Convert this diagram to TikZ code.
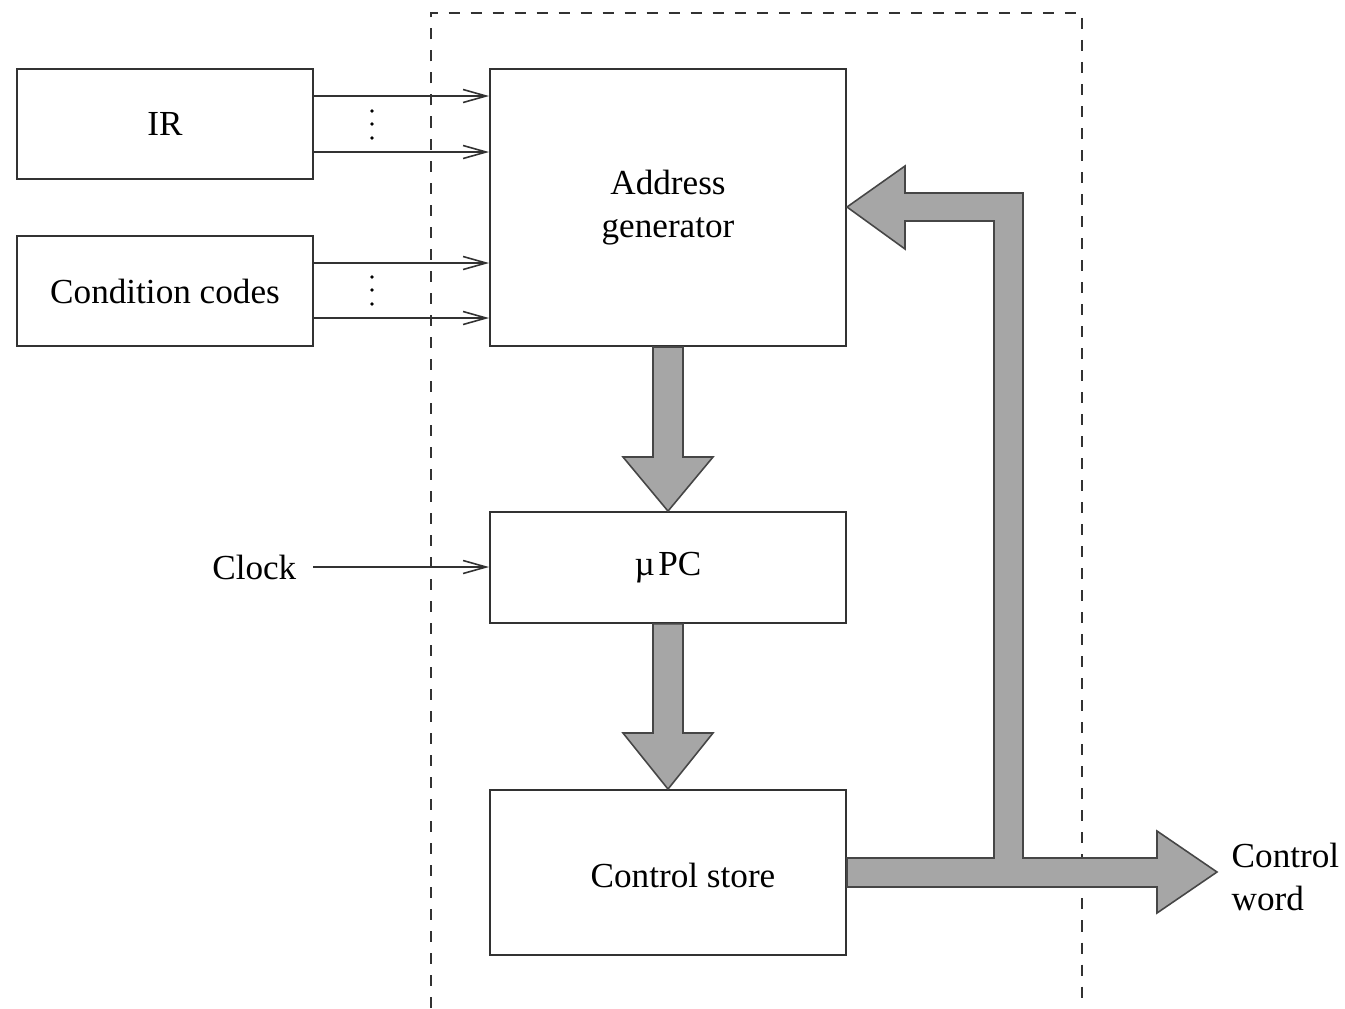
\documentclass[tikz,border=0pt]{standalone}
\usepackage{fontspec}
\setmainfont{Liberation Serif}
\usetikzlibrary{arrows.meta}
\definecolor{busgray}{RGB}{166,166,166}
\definecolor{busedge}{RGB}{70,70,70}
\definecolor{linecol}{RGB}{50,50,50}
\begin{document}
\begin{tikzpicture}[x=0.01cm,y=-0.01cm,
  font=\fontsize{10}{12}\selectfont,
  blockbox/.style={draw=linecol,line width=0.5pt,rectangle,inner sep=0pt,align=center},
  sig/.style={draw=linecol,line width=0.45pt,-{Straight Barb[length=2.3mm,width=1.3mm,line width=0.45pt]}},
  bus/.style={fill=busgray,draw=busedge,line width=0.45pt,line join=miter},
  frame/.style={draw=linecol,line width=0.5pt,dash pattern=on 0.11cm off 0.11cm},
  dot/.style={fill=black}]
\useasboundingbox (0,0) rectangle (1345,1008);

% dashed boundary of the sequencer
\draw[frame] (431,1008) -- (431,13) -- (1082,13) -- (1082,1008);

% blocks
\node[blockbox,minimum width=2.96cm,minimum height=1.10cm] (ir) at (165,124) {\raisebox{-0.8pt}{IR}};
\node[blockbox,minimum width=2.96cm,minimum height=1.10cm] (cc) at (165,291) {Condition codes};
\node[blockbox,minimum width=3.56cm,minimum height=2.77cm] (adr) at (668,207.5) {Address\\generator};
\node[blockbox,minimum width=3.56cm,minimum height=1.11cm] (upc) at (668,567.5) {\raisebox{-1.2pt}{µ\kern1pt PC}};
\node[blockbox,minimum width=3.56cm,minimum height=1.65cm] (cs) at (668,872.5) {};
\node (cstext) at ([xshift=0.15cm,yshift=-0.03cm]cs.center) {Control store};

% inputs to the address generator
\draw[sig] (ir.east |- 0,96) -- (adr.west |- 0,96);
\draw[sig] (ir.east |- 0,152) -- (adr.west |- 0,152);
\draw[sig] (cc.east |- 0,263) -- (adr.west |- 0,263);
\draw[sig] (cc.east |- 0,318) -- (adr.west |- 0,318);
\foreach \yy in {111,124,138,277,290,304}
  \fill[dot] (372,\yy) circle (1.9);

% clock input
\node[anchor=east,inner sep=0pt] (clk) at (297,567) {Clock};
\draw[sig] ([xshift=0.16cm]clk.east) -- (upc.west |- clk.east);

% wide data paths
\draw[bus] (adr.south -| 653,0) -- (653,457) -- (623,457) -- (upc.north)
  -- (713,457) -- (683,457) -- (adr.south -| 683,0) -- cycle;
\draw[bus] (upc.south -| 653,0) -- (653,733) -- (623,733) -- (cs.north)
  -- (713,733) -- (683,733) -- (upc.south -| 683,0) -- cycle;
\coordinate (cwtip) at (1217,872);
\draw[bus] (cs.east |- 0,858) -- (994,858) -- (994,221) -- (905,221) -- (905,249)
  -- (adr.east |- 0,207) -- (905,166) -- (905,193) -- (1023,193) -- (1023,858)
  -- (1157,858) -- (1157,831) -- (cwtip) -- (1157,913) -- (1157,887)
  -- (cs.east |- 0,887) -- cycle;

\node[anchor=west,align=left,inner sep=0pt] (cw) at (1231,877) {Control\\word};
\end{tikzpicture}
\end{document}
